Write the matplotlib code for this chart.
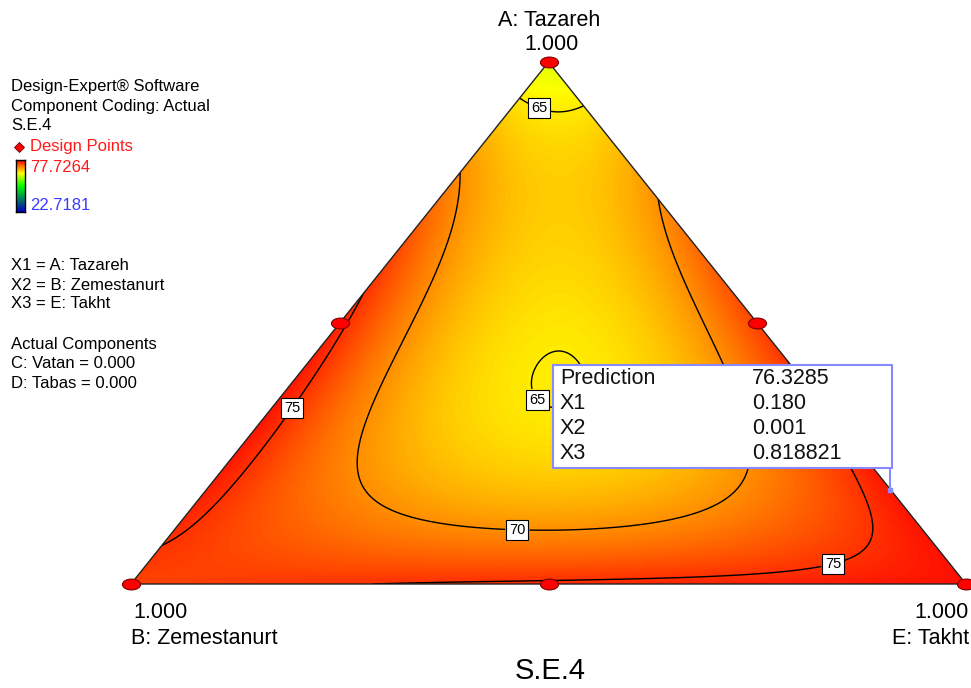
import numpy as np
import matplotlib
matplotlib.use("Agg")
import matplotlib.pyplot as plt
from matplotlib.colors import LinearSegmentedColormap
from matplotlib.patches import Polygon, Rectangle
from matplotlib.path import Path
from matplotlib.transforms import Affine2D

plt.rcParams["font.family"] = ["Liberation Sans", "DejaVu Sans"]

# colour range given in the legend
resp_max = 77.7264
resp_min = 22.7181

# design points shown on the slice (fractions of A, B, E)
design_a = [1.0, 0.0, 0.0, 0.5, 0.5, 0.0]
design_b = [0.0, 1.0, 0.0, 0.5, 0.0, 0.5]
design_e = [0.0, 0.0, 1.0, 0.0, 0.5, 0.5]

# S.E.4 values (contour crossings, shading, tooltip)
# A fraction, E fraction (B = 1 - A - E), response
obs_a = [0.927, 0.895, 0.908,
         0.780, 0.703, 0.602, 0.448, 0.320, 0.2375, 0.186, 0.1475, 0.117, 0.1034,
         0.1034, 0.1226, 0.1475, 0.1667, 0.186, 0.218, 0.423, 0.511, 0.577, 0.722,
         0.544, 0.492, 0.410, 0.320, 0.232, 0.1667, 0.109, 0.1034,
         0.448, 0.425, 0.218, 0.117, 0.0843, 0.0517, 0.0364, 0.019, 0.0115, 0.0077, 0.0038, 0.0,
         0.372, 0.429, 0.454, 0.423, 0.333,
         0.180,
         1.0, 0.0, 0.0, 0.40, 0.736]
obs_e = [0.0, 0.057, 0.092,
         0.0, 0.036, 0.069, 0.110, 0.130, 0.149, 0.178, 0.224, 0.303, 0.370,
         0.482, 0.540, 0.587, 0.618, 0.636, 0.628, 0.497, 0.425, 0.372, 0.278,
         0.0, 0.0074, 0.0235, 0.0267, 0.030, 0.023, 0.0124, 0.0,
         0.552, 0.570, 0.758, 0.8385, 0.858, 0.863, 0.839, 0.752, 0.623, 0.491, 0.367, 0.322,
         0.287, 0.265, 0.284, 0.328, 0.335,
         0.818821,
         0.0, 0.0, 1.0, 0.31, 0.132]
obs_y = [65, 65, 65,
         70, 70, 70, 70, 70, 70, 70, 70, 70, 70,
         70, 70, 70, 70, 70, 70, 70, 70, 70, 70,
         75, 75, 75, 75, 75, 75, 75, 75,
         75, 75, 75, 75, 75, 75, 75, 75, 75, 75, 75, 75,
         65, 65, 65, 65, 65,
         76.3285,
         62.5, 74.3, 77.4, 63.9, 67.0]

contour_levels = [65, 70, 75]

tip_labels = ["Prediction", "X1", "X2", "X3"]
tip_values = ["76.3285", "0.180", "0.001", "0.818821"]
tip_a, tip_e = 0.180, 0.818821


def basis(a, b, e):
    # Scheffe cubic + special quartic terms
    return np.column_stack([a, b, e, a * b, a * e, b * e,
                            a * b * (a - b), a * e * (a - e), b * e * (b - e),
                            a * b * e, a * a * b * e, a * b * b * e, a * b * e * e])


oa = np.array(obs_a); oe = np.array(obs_e); ob = 1 - oa - oe
coef, *_ = np.linalg.lstsq(basis(oa, ob, oe), np.array(obs_y, dtype=float), rcond=None)

# ternary -> cartesian: x = E + A/2, y = A
gx, gy = np.meshgrid(np.linspace(0, 1, 700), np.linspace(0, 1, 500))
ga = gy.ravel(); ge = gx.ravel() - gy.ravel() / 2; gb = 1 - ga - ge
Z = (basis(ga, gb, ge) @ coef).reshape(gx.shape)

cmap = LinearSegmentedColormap.from_list(
    "dx", [(0, "#0000c0"), (0.5, "#00ff00"), (0.75, "#ffff00"), (1.0, "#ff0000")])

fig = plt.figure(figsize=(9.71, 6.88), dpi=100)
ax = fig.add_axes([131 / 971, 104 / 688, 835 / 971, 522 / 688])
ax.set_xlim(0, 1); ax.set_ylim(0, 1); ax.axis("off")

tri = [(0.5, 1.0), (0.0, 0.0), (1.0, 0.0)]
clip = Polygon(tri, closed=True, transform=ax.transData)
im = ax.imshow(Z, extent=[0, 1, 0, 1], origin="lower", cmap=cmap,
               vmin=resp_min, vmax=resp_max, aspect="auto", interpolation="bilinear")
im.set_clip_path(clip)

cs = ax.contour(gx, gy, Z, levels=contour_levels, colors="black", linewidths=1.0)
cs.set_clip_path(clip)
lab_pos = [(0.491, 0.921), (0.486, 0.352), (0.463, 0.1226), (0.187, 0.343), (0.8395, 0.048)]
labels = ax.clabel(cs, fmt="%d", fontsize=10.5, manual=lab_pos, inline=True, inline_spacing=4)
for t in labels:
    t.set_rotation(0)
    t.set_bbox(dict(boxstyle="square,pad=0.2", fc="white", ec="black", lw=0.8))

ax.add_patch(Polygon(tri, closed=True, fill=False, ec="#222222", lw=1.0, clip_on=False, zorder=4))

da = np.array(design_a); de = np.array(design_e)
ell = Path.unit_circle().transformed(Affine2D().scale(1.0, 0.6))
ax.scatter(de + da / 2, da, marker=ell, s=170, c="#ff0000", edgecolors="#7a0000",
           linewidths=0.8, clip_on=False, zorder=6)

# tooltip leader
tx = tip_e + tip_a / 2
ax.plot([tx, tx], [tip_a, tip_a + 0.045], color="#8a8aff", lw=1.5, clip_on=False, zorder=7)
ax.plot([tx], [tip_a], marker="s", ms=3, color="#8a8aff", clip_on=False, zorder=7)

# overlay in pixel coordinates for texts
ov = fig.add_axes([0, 0, 1, 1])
ov.set_xlim(0, 971); ov.set_ylim(688, 0); ov.axis("off")

ov.add_patch(Rectangle((553, 365), 339, 103, fc="white", ec="#8a8aff", lw=1.5))
for i, (l, v) in enumerate(zip(tip_labels, tip_values)):
    y = 378 + i * 25.3
    ov.text(560, y, l, fontsize=15.5, va="center", ha="left", color="#111111")
    ov.text(752, y, v, fontsize=15.5, va="center", ha="left", color="#111111")

ov.text(549, 20, "A: Tazareh", fontsize=15.5, ha="center", va="center")
ov.text(552, 44, "1.000", fontsize=15.5, ha="center", va="center")
ov.text(133, 612, "1.000", fontsize=15.5, ha="left", va="center")
ov.text(131, 638, "B: Zemestanurt", fontsize=15.5, ha="left", va="center")
ov.text(969, 612, "1.000", fontsize=15.5, ha="right", va="center")
ov.text(969, 638, "E: Takht", fontsize=15.5, ha="right", va="center")
ov.text(550, 671, "S.E.4", fontsize=21, ha="center", va="center")

fs = 12
ov.text(11, 87, "Design-Expert® Software", fontsize=fs, va="center")
ov.text(11, 106, "Component Coding: Actual", fontsize=fs, va="center")
ov.text(11, 126, "S.E.4", fontsize=fs, va="center")
ov.plot([19], [147], marker="D", ms=5, color="#ff0000", mec="#600000", mew=0.6)
ov.text(30, 147, "Design Points", fontsize=fs, va="center", color="#ff1a1a")
ov.text(30, 167, f"{resp_max:.4f}", fontsize=fs, va="center", color="#ff1a1a")
ov.text(30, 205, f"{resp_min:.4f}", fontsize=fs, va="center", color="#3a3aff")
ov.text(11, 265, "X1 = A: Tazareh", fontsize=fs, va="center")
ov.text(11, 285, "X2 = B: Zemestanurt", fontsize=fs, va="center")
ov.text(11, 304, "X3 = E: Takht", fontsize=fs, va="center")
ov.text(11, 345, "Actual Components", fontsize=fs, va="center")
ov.text(11, 364, "C: Vatan = 0.000", fontsize=fs, va="center")
ov.text(11, 383, "D: Tabas = 0.000", fontsize=fs, va="center")

cb = fig.add_axes([16 / 971, (688 - 212) / 688, 9 / 971, 52 / 688])
cb.imshow(np.linspace(0, 1, 100).reshape(-1, 1), cmap=cmap, origin="lower", aspect="auto")
cb.set_xticks([]); cb.set_yticks([])
for s in cb.spines.values():
    s.set_linewidth(1.0)

fig.savefig("out.png", dpi=100)
